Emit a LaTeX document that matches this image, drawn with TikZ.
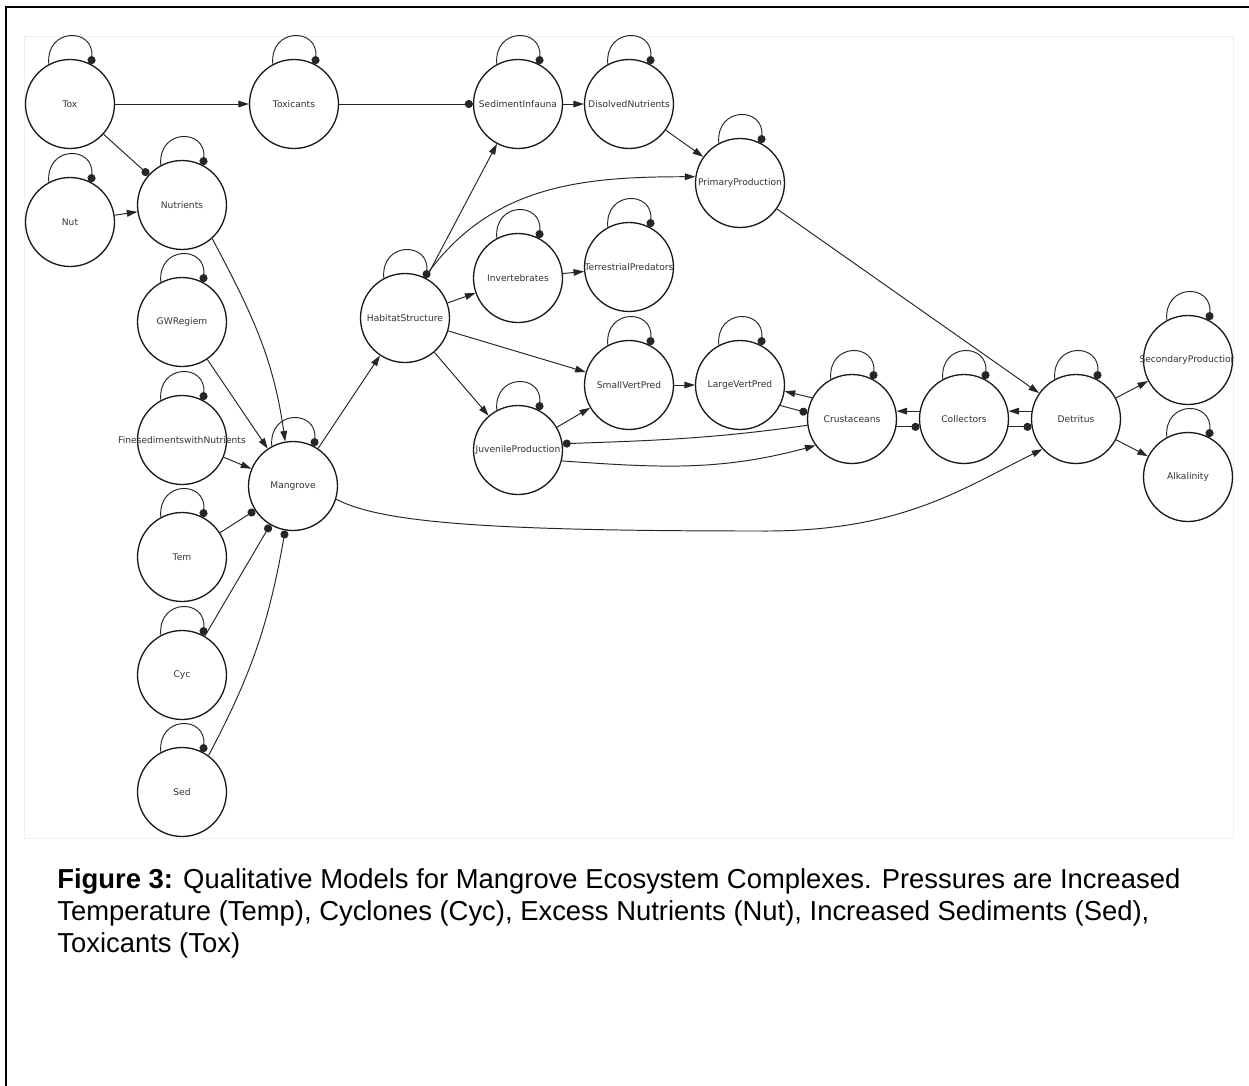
\documentclass[tikz,border=0pt]{standalone}
\usepackage{fontspec}
\setmainfont{Liberation Sans}
\newfontfamily\labfont{DejaVu Sans}
\usetikzlibrary{arrows.meta}

\begin{document}
\begin{tikzpicture}[x=0.02cm,y=0.02cm,
  state/.style={circle,draw=black!90,line width=0.75pt,minimum size=1.78cm,inner sep=0pt},
  lab/.style={font=\labfont\fontsize{5.2}{6}\selectfont,text=black!80,inner sep=0pt},
  linkline/.style={line width=0.55pt,draw=black!85},
  posarrow/.style={linkline,-{Triangle[length=6pt,width=3.8pt]}},
  negdot/.style={linkline,-{Circle[length=4.6pt]}},
  capt/.style={anchor=base west,inner sep=0pt,font=\fontsize{15.6}{19}\selectfont}
]
\useasboundingbox (0,0) rectangle (1249,-1086);

% page frame (top and left rules)
\draw[line width=1.2pt] (6,-1086) -- (6,-7) -- (1249,-7);

% light frame of the graph area
\draw[black!6,line width=0.5pt] (24,-36) rectangle (1233,-838);

\begin{scope}
\clip (24,-28) rectangle (1233,-838);

% ---- nodes ----
\node[state,label={[lab]center:Tox}] (Tox) at (70,-104) {};
\node[state,label={[lab]center:Toxicants}] (Toxicants) at (294,-104) {};
\node[state,label={[lab]center:Nut}] (Nut) at (70,-222) {};
\node[state,label={[lab]center:Nutrients}] (Nutrients) at (182,-205) {};
\node[state,label={[lab]center:GWRegiem}] (GW) at (182,-322) {};
\node[state,label={[lab]center:FinesedimentswithNutrients}] (Fine) at (182,-440) {};
\node[state,label={[lab]center:Mangrove}] (Mangrove) at (293,-486) {};
\node[state,label={[lab]center:Tem}] (Tem) at (182,-557) {};
\node[state,label={[lab]center:Cyc}] (Cyc) at (182,-675) {};
\node[state,label={[lab]center:Sed}] (Sed) at (182,-792) {};
\node[state,label={[lab]center:HabitatStructure}] (HS) at (405,-318) {};
\node[state,label={[lab]center:SedimentInfauna}] (SedInf) at (518,-104) {};
\node[state,label={[lab]center:DisolvedNutrients}] (DisNut) at (629,-104) {};
\node[state,label={[lab]center:PrimaryProduction}] (PrimProd) at (740,-183) {};
\node[state,label={[lab]center:Invertebrates}] (Invert) at (518,-278) {};
\node[state,label={[lab]center:TerrestrialPredators}] (TerrPred) at (629,-267) {};
\node[state,label={[lab]center:SmallVertPred}] (SVP) at (629,-385) {};
\node[state,label={[lab]center:LargeVertPred}] (LVP) at (740,-385) {};
\node[state,label={[lab]center:JuvenileProduction}] (Juv) at (518,-450) {};
\node[state,label={[lab]center:Crustaceans}] (Crust) at (852,-419) {};
\node[state,label={[lab]center:Collectors}] (Collect) at (964,-419) {};
\node[state,label={[lab]center:Detritus}] (Detr) at (1076,-419) {};
\node[state,label={[lab]center:SecondaryProduction}] (SecProd) at (1188,-360) {};
\node[state,label={[lab]center:Alkalinity}] (Alk) at (1188,-477) {};

% ---- self effects ----
\foreach \n in {Tox,Toxicants,Nut,Nutrients,GW,Fine,Mangrove,Tem,Cyc,Sed,HS,
  SedInf,DisNut,PrimProd,Invert,TerrPred,SVP,LVP,Juv,Crust,Collect,Detr,SecProd,Alk}
  \draw[negdot] (\n.118) .. controls +(95:37) and +(85:37) .. (\n.62);

% ---- pressures ----
\draw[posarrow] (Tox) -- (Toxicants);
\draw[negdot] (Tox) -- (Nutrients);
\draw[posarrow] (Nut) -- (Nutrients);
\draw[negdot] (Toxicants) -- (SedInf);
\draw[posarrow] (Nutrients.-48) to[out=-62,in=98] (Mangrove.100);
\draw[posarrow] (GW) -- (Mangrove);
\draw[posarrow] (Fine) -- (Mangrove);
\draw[negdot] (Tem) -- (Mangrove);
\draw[negdot] (Cyc) -- (Mangrove);
\draw[negdot] (Sed.54) to[out=62,in=-100] (Mangrove.-100);

% ---- habitat and food web ----
\draw[posarrow] (Mangrove) -- (HS);
\draw[posarrow] (Mangrove.-17) .. controls (380,-522) and (480,-531) .. (760,-531)
  .. controls (900,-532) and (960,-490) .. (Detr.222);
\draw[posarrow] (HS) -- (SedInf);
\draw[posarrow] (HS.64) to[out=55,in=180] (PrimProd.172);
\draw[posarrow] (SedInf) -- (DisNut);
\draw[posarrow] (DisNut) -- (PrimProd);
\draw[posarrow] (HS) -- (Invert);
\draw[posarrow] (Invert) -- (TerrPred);
\draw[posarrow] (HS) -- (SVP);
\draw[posarrow] (HS) -- (Juv);
\draw[posarrow] (Juv) -- (SVP);
\draw[posarrow] (SVP) -- (LVP);
\draw[posarrow] (Crust.152) -- (LVP.-8);
\draw[negdot] (LVP.-27) -- (Crust.172);
\draw[negdot] (Crust.188) to[out=188,in=2] (Juv.8);
\draw[posarrow] (Juv.-14) to[out=-4,in=195] (Crust.216);
\draw[posarrow] (Collect.170) -- (Crust.10);
\draw[negdot] (Crust.-10) -- (Collect.190);
\draw[posarrow] (Detr.170) -- (Collect.10);
\draw[negdot] (Collect.-10) -- (Detr.190);
\draw[posarrow] (PrimProd) -- (Detr);
\draw[posarrow] (Detr) -- (SecProd);
\draw[posarrow] (Detr) -- (Alk);
\end{scope}

% ---- caption ----
\node[capt] (cap1) at (57,-888) {\textbf{Figure 3:} Qualitative Models for Mangrove Ecosystem Complexes. Pressures are Increased};
\node[capt] (cap2) at (57,-920) {Temperature (Temp), Cyclones (Cyc), Excess Nutrients (Nut), Increased Sediments (Sed),};
\node[capt] (cap3) at (57,-952) {Toxicants (Tox)};
\end{tikzpicture}
\end{document}
